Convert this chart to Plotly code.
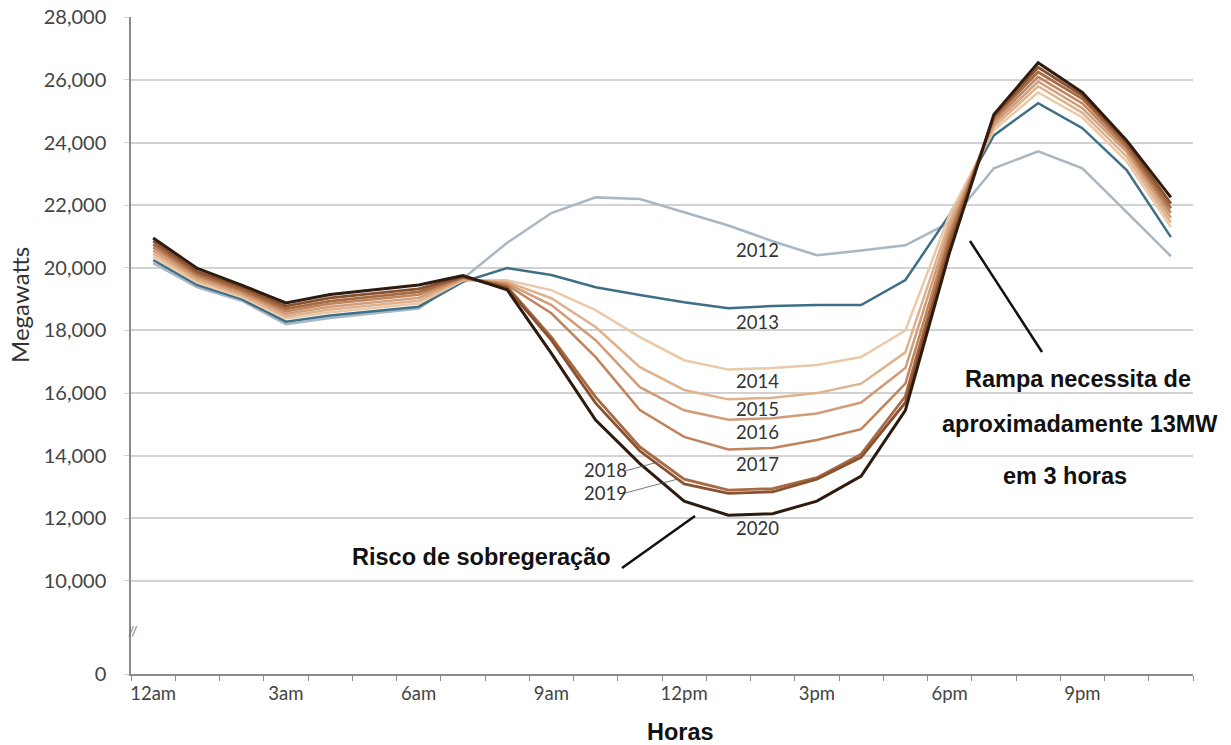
import plotly.graph_objects as go

# hours of the day (categories) and their tick labels
hours = list(range(24))
tick_pos = [0, 3, 6, 9, 12, 15, 18, 21]
tick_labels = ['12am', '3am', '6am', '9am', '12pm', '3pm', '6pm', '9pm']

# net load, megawatts
y2012 = [20150, 19380, 18950, 18200, 18400, 18550, 18700, 19650, 20800, 21750, 22250, 22200,
         21780, 21350, 20850, 20400, 20550, 20720, 21450, 23180, 23720, 23180, 21780, 20370]
y2013 = [20250, 19450, 19000, 18280, 18480, 18620, 18760, 19550, 19990, 19770, 19380, 19130,
         18900, 18710, 18780, 18810, 18810, 19610, 21700, 24230, 25260, 24460, 23120, 20980]
y2014 = [20350, 19530, 19070, 18380, 18580, 18720, 18860, 19600, 19600, 19290, 18650, 17790,
         17050, 16750, 16800, 16900, 17150, 18000, 21700, 24400, 25600, 24800, 23400, 21300]
y2015 = [20450, 19600, 19130, 18450, 18670, 18810, 18950, 19620, 19550, 19030, 18110, 16830,
         16100, 15800, 15850, 16000, 16300, 17300, 21500, 24500, 25800, 24950, 23550, 21450]
y2016 = [20550, 19670, 19190, 18530, 18760, 18900, 19040, 19650, 19500, 18810, 17690, 16190,
         15450, 15150, 15200, 15350, 15700, 16800, 21300, 24600, 25950, 25100, 23700, 21600]
y2017 = [20650, 19740, 19250, 18610, 18850, 18990, 19140, 19680, 19450, 18550, 17150, 15460,
         14600, 14200, 14250, 14500, 14850, 16300, 21100, 24700, 26100, 25250, 23800, 21750]
y2018 = [20750, 19810, 19310, 18690, 18940, 19080, 19230, 19700, 19400, 17790, 15870, 14280,
         13250, 12900, 12950, 13300, 14050, 15900, 20900, 24800, 26250, 25400, 23900, 21900]
y2019 = [20850, 19880, 19380, 18780, 19040, 19180, 19330, 19720, 19350, 17690, 15680, 14150,
         13100, 12800, 12850, 13250, 13950, 15700, 20700, 24850, 26400, 25500, 24000, 22050]
y2020 = [20950, 19980, 19450, 18880, 19150, 19300, 19450, 19750, 19300, 17270, 15140, 13750,
         12550, 12100, 12150, 12550, 13350, 15450, 20500, 24900, 26550, 25600, 24070, 22250]

years = ['2012', '2013', '2014', '2015', '2016', '2017', '2018', '2019', '2020']
series = [y2012, y2013, y2014, y2015, y2016, y2017, y2018, y2019, y2020]
colors = ['#a9b7c4', '#3e6f86', '#ebc9a8', '#dfb28e', '#d19c77', '#c0845c',
          '#a76a42', '#8a5130', '#2e1b10']
widths = [2.5, 2.5, 2.5, 2.5, 2.5, 2.5, 2.8, 2.8, 3]

# y axis: broken between 0 and 10,000
y_bottom = 7030
y_ticks = [y_bottom, 10000, 12000, 14000, 16000, 18000, 20000, 22000, 24000, 26000, 28000]
y_text = ['0', '10,000', '12,000', '14,000', '16,000', '18,000', '20,000', '22,000',
          '24,000', '26,000', '28,000']

fig = go.Figure()
for name, vals, c, w in zip(years, series, colors, widths):
    fig.add_trace(go.Scatter(x=hours, y=vals, mode='lines', name=name,
                             line=dict(color=c, width=w)))

W, H = 1231, 745
# plot box in pixels
L, R, T, B = 131, 1193, 17, 674
def px(x):
    return (x - L) / (R - L)
def py(y):
    return (B - y) / (B - T)

year_font = dict(family='Lato', size=18.5, color='#333333')
bold_font = dict(family='Liberation Sans', size=23.5, color='#111111')

ann = []
def note(x, y, text, font, **kw):
    ann.append(dict(x=px(x), y=py(y), xref='paper', yref='paper', text=text, showarrow=False,
                    xanchor='center', yanchor='middle', font=font, **kw))

year_pos = {'2012': (757, 250), '2013': (757, 322), '2014': (757, 381), '2015': (757, 409),
            '2016': (757, 432), '2017': (757, 464), '2018': (605, 470), '2019': (605, 493),
            '2020': (757, 528)}
for yr, (x, y) in year_pos.items():
    note(x, y, yr, year_font)

note(481, 557, '<b>Risco de sobregeração</b>', bold_font)
note(1078, 379, '<b>Rampa necessita de</b>', bold_font)
note(1080, 424, '<b>aproximadamente 13MW</b>', bold_font)
note(1065, 476, '<b>em 3 horas</b>', bold_font)
note(680, 732, '<b>Horas</b>', bold_font)
note(19, 305, 'Megawatts', dict(family='Lato', size=24, color='#333333'), textangle=-90)
note(133, 630, '//', dict(family='Lato', size=14, color='#777777'))

shapes = []
def seg(x0, y0, x1, y1, color, width):
    shapes.append(dict(type='line', xref='paper', yref='paper', x0=px(x0), y0=py(y0),
                       x1=px(x1), y1=py(y1), line=dict(color=color, width=width)))
seg(622, 568, 695, 516, '#111111', 2.5)
seg(970, 241, 1042, 352, '#111111', 2.5)
seg(625, 471, 658, 462, '#555555', 0.8)
seg(625, 493, 678, 479, '#555555', 0.8)

fig.update_layout(
    width=W, height=H,
    margin=dict(l=L, r=W - R, t=T, b=H - B),
    plot_bgcolor='white', paper_bgcolor='white',
    showlegend=False,
    annotations=ann, shapes=shapes,
    xaxis=dict(range=[-0.5, 23.5], tickvals=tick_pos, ticktext=tick_labels, ticks='',
               showgrid=False, zeroline=False, showline=True, linecolor='#8a8a8a', linewidth=1.5,
               tickfont=dict(family='Lato', size=18.5, color='#444444'), ticklabelstandoff=2,
               automargin=False,
               minor=dict(tickmode='linear', tick0=-0.5, dtick=1, ticks='outside', ticklen=5,
                          tickcolor='#8a8a8a', showgrid=False)),
    yaxis=dict(range=[y_bottom, 28010], tickvals=y_ticks, ticktext=y_text, ticks='outside',
               ticklen=5, tickcolor='#cfcfcf', showgrid=True, gridcolor='#d2d2d2', gridwidth=1.5,
               zeroline=False, showline=True, linecolor='#8a8a8a', linewidth=1.5,
               tickfont=dict(family='Lato', size=20, color='#444444'), ticklabelstandoff=14,
               automargin=False),
)

# drop the page's default body margin so the figure sits at the window corner
fig.write_html('out.html', config={'displayModeBar': False},
               post_script="document.body.style.margin='0px';")
